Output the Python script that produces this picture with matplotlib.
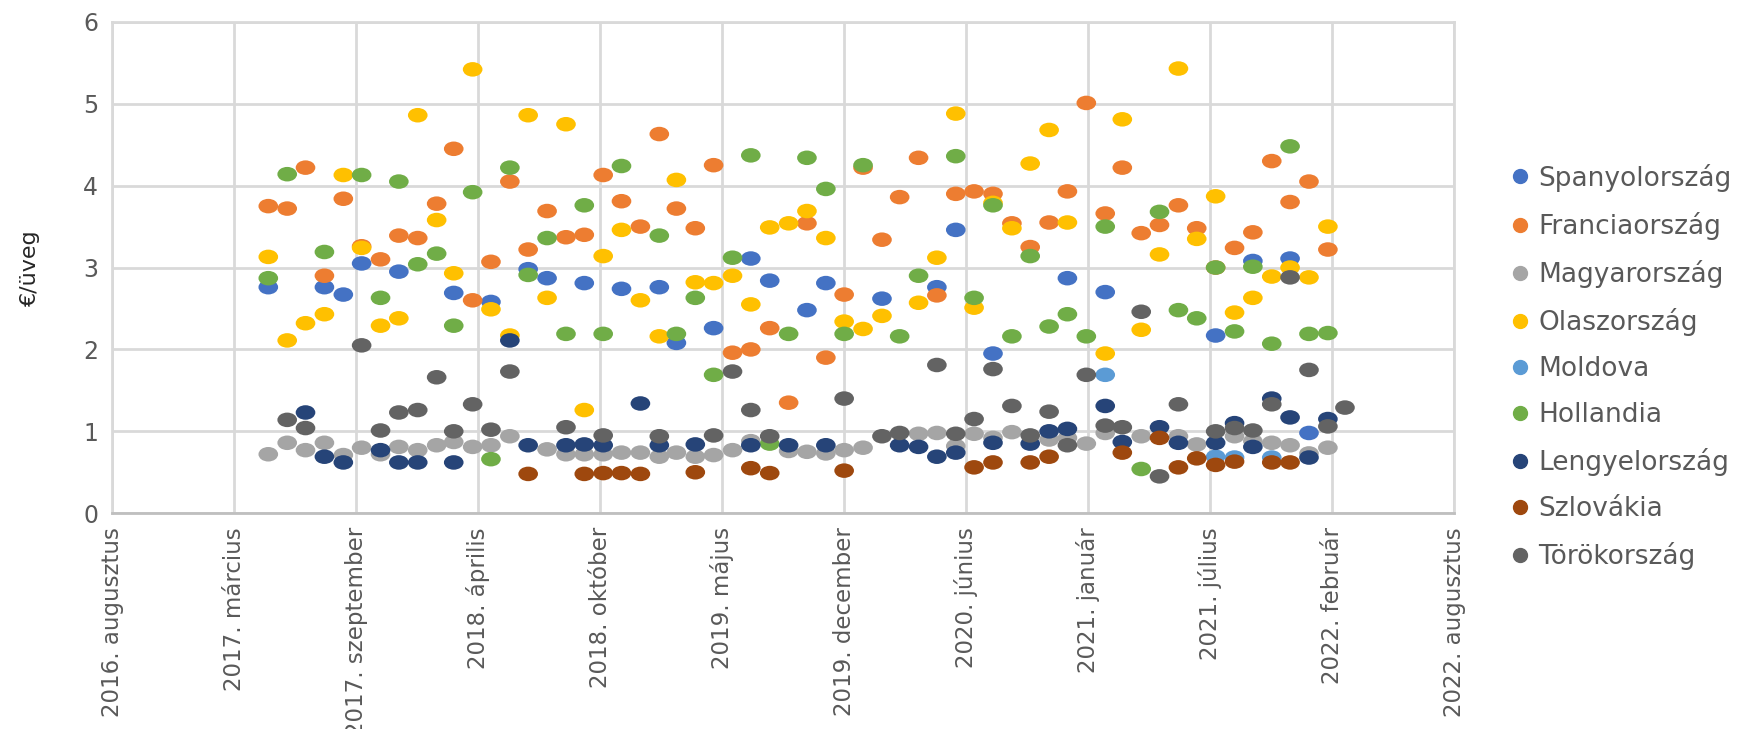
import matplotlib
matplotlib.use("Agg")
import matplotlib.pyplot as plt
from matplotlib.path import Path
from matplotlib.lines import Line2D
import numpy as np
import pandas as pd

# monthly observations, May 2017 .. March 2022 (59 months), None = no data
months = pd.date_range("2017-05-01", periods=59, freq="MS")

spanyol = {0: 2.76, 3: 2.76, 4: 2.67, 5: 3.05, 7: 2.95, 10: 2.69, 12: 2.58, 14: 2.98, 15: 2.87,
           17: 2.81, 19: 2.74, 21: 2.76, 22: 2.08, 24: 2.26, 26: 3.11, 27: 2.84, 29: 2.48, 30: 2.81,
           33: 2.62, 36: 2.76, 37: 3.46, 39: 1.95, 43: 2.87, 45: 2.70, 51: 2.17, 53: 3.08, 55: 3.11,
           56: 0.98}
francia = {0: 3.75, 1: 3.72, 2: 4.22, 3: 2.90, 4: 3.84, 5: 3.26, 6: 3.10, 7: 3.39, 8: 3.36, 9: 3.78,
           10: 4.45, 11: 2.60, 12: 3.07, 13: 4.05, 14: 3.22, 15: 3.69, 16: 3.37, 17: 3.40, 18: 4.13,
           19: 3.81, 20: 3.50, 21: 4.63, 22: 3.72, 23: 3.48, 24: 4.25, 25: 1.96, 26: 2.00, 27: 2.26,
           28: 1.35, 29: 3.54, 30: 1.90, 31: 2.67, 32: 4.22, 33: 3.34, 34: 3.86, 35: 4.34, 36: 2.66,
           37: 3.90, 38: 3.93, 39: 3.90, 40: 3.54, 41: 3.25, 42: 3.55, 43: 3.93, 44: 5.01, 45: 3.66,
           46: 4.22, 47: 3.42, 48: 3.52, 49: 3.76, 50: 3.48, 51: 3.00, 52: 3.24, 53: 3.43, 54: 4.30,
           55: 3.80, 56: 4.05, 57: 3.22}
magyar = {0: 0.72, 1: 0.86, 2: 0.77, 3: 0.86, 4: 0.71, 5: 0.80, 6: 0.72, 7: 0.81, 8: 0.77, 9: 0.83,
          10: 0.87, 11: 0.81, 12: 0.83, 13: 0.94, 15: 0.78, 16: 0.72, 17: 0.72, 18: 0.72, 19: 0.74,
          20: 0.74, 21: 0.69, 22: 0.74, 23: 0.69, 24: 0.71, 25: 0.77, 26: 0.88, 28: 0.76, 29: 0.75,
          30: 0.73, 31: 0.77, 32: 0.80, 35: 0.97, 36: 0.98, 37: 0.82, 38: 0.97, 39: 0.92, 40: 0.99,
          42: 0.90, 43: 0.92, 44: 0.85, 45: 0.98, 47: 0.94, 49: 0.94, 50: 0.84, 52: 0.94, 53: 0.88,
          54: 0.86, 55: 0.83, 56: 0.73, 57: 0.80}
olasz = {0: 3.13, 1: 2.11, 2: 2.32, 3: 2.43, 4: 4.13, 5: 3.24, 6: 2.29, 7: 2.38, 8: 4.86, 9: 3.58,
         10: 2.93, 11: 5.42, 12: 2.49, 13: 2.17, 14: 4.86, 15: 2.63, 16: 4.75, 17: 1.26, 18: 3.14,
         19: 3.46, 20: 2.60, 21: 2.16, 22: 4.07, 23: 2.82, 24: 2.81, 25: 2.90, 26: 2.55, 27: 3.49,
         28: 3.54, 29: 3.69, 30: 3.36, 31: 2.34, 32: 2.25, 33: 2.41, 35: 2.57, 36: 3.12, 37: 4.88,
         38: 2.51, 39: 3.79, 40: 3.48, 41: 4.27, 42: 4.68, 43: 3.55, 45: 1.95, 46: 4.81, 47: 2.24,
         48: 3.16, 49: 5.43, 50: 3.35, 51: 3.87, 52: 2.45, 53: 2.63, 54: 2.89, 55: 3.00, 56: 2.88,
         57: 3.50}
moldova = {45: 1.69, 51: 0.69, 52: 0.68, 54: 0.68}
holland = {0: 2.87, 1: 4.14, 3: 3.19, 5: 4.13, 6: 2.63, 7: 4.05, 8: 3.04, 9: 3.17, 10: 2.29, 11: 3.92,
           12: 0.66, 13: 4.22, 14: 2.91, 15: 3.36, 16: 2.19, 17: 3.76, 18: 2.19, 19: 4.24, 21: 3.39,
           22: 2.19, 23: 2.63, 24: 1.69, 25: 3.12, 26: 4.37, 27: 0.85, 28: 2.19, 29: 4.34, 30: 3.96,
           31: 2.19, 32: 4.25, 34: 2.16, 35: 2.90, 37: 4.36, 38: 2.63, 39: 3.76, 40: 2.16, 41: 3.14,
           42: 2.28, 43: 2.43, 44: 2.16, 45: 3.50, 47: 0.54, 48: 3.68, 49: 2.48, 50: 2.38, 51: 3.00,
           52: 2.22, 53: 3.01, 54: 2.07, 55: 4.48, 56: 2.19, 57: 2.20}
lengyel = {2: 1.23, 3: 0.69, 4: 0.62, 6: 0.77, 7: 0.62, 8: 0.62, 10: 0.62, 13: 2.11, 14: 0.83,
           16: 0.83, 17: 0.84, 18: 0.83, 20: 1.34, 21: 0.83, 23: 0.84, 26: 0.83, 28: 0.83, 30: 0.83,
           34: 0.83, 35: 0.81, 36: 0.69, 37: 0.74, 39: 0.86, 41: 0.85, 42: 1.00, 43: 1.03, 45: 1.31,
           46: 0.87, 48: 1.05, 49: 0.86, 51: 0.86, 52: 1.10, 53: 0.81, 54: 1.40, 55: 1.17, 56: 0.68,
           57: 1.15}
szlovak = {14: 0.48, 17: 0.48, 18: 0.49, 19: 0.49, 20: 0.48, 23: 0.50, 26: 0.55, 27: 0.49, 31: 0.52,
           38: 0.56, 39: 0.62, 41: 0.62, 42: 0.69, 46: 0.74, 48: 0.92, 49: 0.56, 50: 0.67, 51: 0.59,
           52: 0.63, 54: 0.62, 55: 0.62}
torok = {1: 1.14, 2: 1.04, 5: 2.05, 6: 1.01, 7: 1.23, 8: 1.26, 9: 1.66, 10: 1.00, 11: 1.33, 12: 1.02,
         13: 1.73, 16: 1.05, 18: 0.95, 21: 0.94, 24: 0.95, 25: 1.73, 26: 1.26, 27: 0.94, 31: 1.40,
         33: 0.94, 34: 0.98, 36: 1.81, 37: 0.97, 38: 1.15, 39: 1.76, 40: 1.31, 41: 0.95, 42: 1.24,
         43: 0.83, 44: 1.69, 45: 1.07, 46: 1.05, 47: 2.46, 48: 0.45, 49: 1.33, 51: 1.00, 52: 1.04,
         53: 1.01, 54: 1.33, 55: 2.88, 56: 1.75, 57: 1.06, 58: 1.29}

names = ["Spanyolország", "Franciaország", "Magyarország", "Olaszország", "Moldova",
         "Hollandia", "Lengyelország", "Szlovákia", "Törökország"]
series = [spanyol, francia, magyar, olasz, moldova, holland, lengyel, szlovak, torok]
colors = ["#4472C4", "#ED7D31", "#A5A5A5", "#FFC000", "#5B9BD5",
          "#70AD47", "#264478", "#9E480E", "#636363"]

tick_labels = ["2016. augusztus", "2017. március", "2017. szeptember", "2018. április",
               "2018. október", "2019. május", "2019. december", "2020. június",
               "2021. január", "2021. július", "2022. február", "2022. augusztus"]

# Excel-style date axis: serial 42600 .. 44800, major unit 200 days
excel0 = pd.Timestamp("1899-12-30")
tick_dates = [excel0 + pd.Timedelta(days=42600 + 200 * k) for k in range(len(tick_labels))]

plt.rcParams['font.family'] = ['DejaVu Sans']

fig = plt.figure(figsize=(17.52, 7.29), dpi=100)
ax = fig.add_axes([0.064, 0.296, 0.766, 0.674])

# slightly flattened circle, like the stretched Excel markers
circ = Path.unit_circle()
ell = Path(circ.vertices * np.array([1.0, 0.74]), circ.codes)

for name, data, c in zip(names, series, colors):
    idx = sorted(data.keys())
    ax.scatter(months[idx], [data[i] for i in idx], marker=ell, s=200, color=c,
               edgecolors="none", zorder=3, label=name)

ax.set_xlim(tick_dates[0], tick_dates[-1])
ax.set_ylim(0, 6)
ax.set_xticks(tick_dates)
ax.set_xticklabels(tick_labels, rotation=90, fontsize=16.5, color="#595959")
ax.set_yticks(range(0, 7))
ax.set_yticklabels([str(v) for v in range(0, 7)], fontsize=17, color="#595959")
ax.tick_params(length=0, pad=10)
ax.grid(True, color="#D9D9D9", linewidth=2)
ax.set_axisbelow(True)
for sp in ax.spines.values():
    sp.set_color("#D9D9D9")
    sp.set_linewidth(2)
ax.spines["bottom"].set_color("#BFBFBF")

ax.set_ylabel("€/üveg", fontsize=16, color="#262626", labelpad=31)

handles = [Line2D([], [], linestyle="none", marker="o", markersize=10, color=c) for c in colors]
fig.legend(handles, names, loc="upper left", bbox_to_anchor=(0.848, 0.808), frameon=False,
           fontsize=19, labelcolor="#595959", handletextpad=0.3, labelspacing=0.76,
           handlelength=0.8)

fig.savefig("out.png", dpi=100)
